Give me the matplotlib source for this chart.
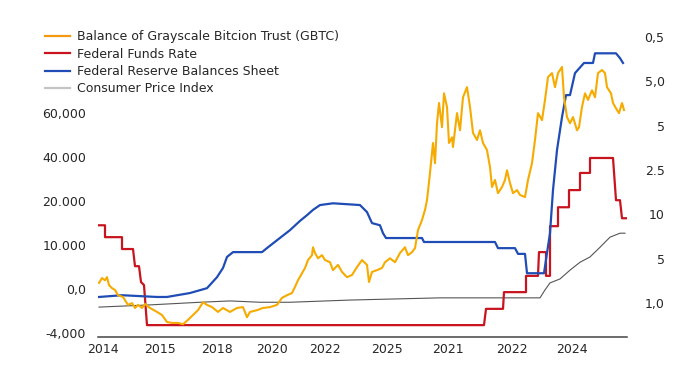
import matplotlib
matplotlib.use("Agg")
import matplotlib.pyplot as plt
from matplotlib.lines import Line2D

# ---------------- data ----------------
# x: time index along the axis; y: position on the left-axis scale (ticks at 0..50)
x_tick_pos = [5, 62, 119, 174, 227, 289, 350, 414, 474]
x_tick_labels = ["2014", "2015", "2018", "2020", "2022", "2025", "2021", "2022", "2024"]

left_tick_pos = [0, 10, 20, 30, 40, 50]
left_tick_labels = ["-4,000", "0,0", "10.000", "20.000", "40.000", "60,000"]

right_tick_pos = [6.8, 16.9, 27.0, 37.0, 47.1, 57.2, 67.3]
right_tick_labels = ["1,0", "5", "10", "2.5", "5", "5,0", "0,5"]

gbtc_x = [1, 4, 7, 9, 11, 14, 17, 20, 25, 30,
          34, 37, 40, 44, 47, 52, 59, 64, 69, 74,
          80, 85, 90, 95, 100, 105, 109, 114, 120, 125,
          132, 139, 145, 149, 152, 159, 165, 172, 179, 184,
          189, 194, 197, 200, 204, 207, 210, 214, 215, 217,
          220, 224, 227, 232, 235, 240, 244, 249, 254, 259,
          264, 269, 271, 274, 279, 284, 287, 292, 297, 302,
          307, 310, 314, 317, 320, 324, 327, 329, 332, 335,
          337, 339, 341, 344, 346, 349, 351, 354, 355, 359,
          362, 365, 369, 372, 375, 379, 382, 385, 389, 392,
          394, 397, 400, 404, 407, 409, 412, 415, 419, 422,
          427, 430, 434, 437, 440, 444, 447, 450, 454, 457,
          460, 464, 466, 469, 472, 475, 479, 481, 484, 487,
          490, 494, 497, 500, 504, 507, 509, 513, 515, 519,
          521, 524, 526]
gbtc_y = [11.4, 12.5, 12.0, 12.7, 10.9, 10.2, 9.8, 8.6, 8.2, 6.4,
          6.8, 5.7, 6.4, 5.7, 6.6, 5.7, 4.8, 4.1, 2.5, 2.3,
          2.3, 2.0, 3.0, 4.1, 5.2, 7.0, 6.4, 5.9, 4.8, 5.7,
          4.8, 5.7, 5.9, 3.6, 4.8, 5.2, 5.7, 5.9, 6.4, 8.0,
          8.6, 9.1, 10.5, 12.0, 13.6, 14.8, 16.6, 17.7, 19.5, 18.2,
          17.0, 17.7, 16.6, 16.1, 14.3, 15.5, 13.9, 12.7, 13.2, 15.0,
          16.6, 15.5, 11.6, 13.9, 14.3, 14.8, 16.1, 17.0, 16.1, 18.2,
          19.5, 17.7, 18.4, 19.3, 23.4, 25.7, 28.0, 30.2, 36.4, 43.2,
          38.6, 47.7, 52.3, 46.8, 54.5, 51.4, 43.2, 44.5, 42.3, 50.0,
          46.1, 53.6, 55.9, 51.4, 45.5, 43.9, 46.1, 43.2, 41.6, 37.7,
          33.2, 34.8, 31.8, 33.2, 34.8, 37.0, 34.1, 31.8, 32.5, 31.4,
          30.9, 34.8, 38.6, 43.9, 50.0, 48.4, 53.0, 58.2, 59.1, 55.9,
          59.1, 60.5, 53.6, 49.1, 47.7, 49.1, 46.1, 46.8, 51.4, 54.5,
          53.0, 55.2, 53.6, 59.1, 59.8, 59.1, 55.9, 54.5, 52.3, 50.7,
          50.0, 52.3, 50.7]

fed_rate_x = [1, 7, 7, 24, 24, 35, 37, 41, 43, 46, 49, 386, 388, 405, 406, 428, 428,
              440, 441, 448, 448, 452, 452, 460, 460, 471, 471, 482, 482, 492, 492,
              515, 518, 522, 524, 528]
fed_rate_y = [24.5, 24.5, 21.8, 21.8, 19.1, 19.1, 15.2, 15.2, 11.6, 10.9, 1.8, 1.8, 5.5, 5.5,
              9.3, 9.3, 13.0, 13.0, 18.4, 18.4, 13.0, 13.0, 24.3, 24.3, 28.6, 28.6, 32.5,
              32.5, 36.4, 36.4, 39.8, 39.8, 30.2, 30.2, 26.1, 26.1]

fed_bs_x = [1, 24, 59, 69, 92, 109, 119, 125, 129, 135, 164, 170, 179, 192, 202, 209, 215,
            222, 235, 262, 269, 274, 282, 285, 288, 324, 326, 397, 400, 417, 420, 427, 429,
            446, 449, 452, 455, 459, 464, 468, 472, 477, 486, 495, 497, 518, 522, 525]
fed_bs_y = [8.2, 8.6, 8.2, 8.2, 9.1, 10.2, 12.7, 14.8, 17.3, 18.4, 18.4, 19.5, 21.1, 23.4,
            25.5, 26.8, 28.0, 29.1, 29.5, 29.1, 27.5, 25.0, 24.5, 22.7, 21.6, 21.6, 20.7,
            20.7, 19.3, 19.3, 18.0, 18.0, 13.6, 13.6, 18.2, 22.7, 32.5, 41.6, 49.1, 54.1,
            54.1, 59.1, 61.4, 61.4, 63.6, 63.6, 62.5, 61.4]

cpi_x = [1, 52, 102, 132, 162, 192, 252, 342, 442, 447, 452, 462, 472, 482, 492, 502,
         512, 522, 527]
cpi_y = [5.9, 6.4, 7.0, 7.3, 7.0, 7.0, 7.5, 8.0, 8.0, 9.8, 11.4, 12.3, 14.3, 16.1, 17.3,
         19.5, 21.8, 22.7, 22.7]

labels = ["Balance of Grayscale Bitcion Trust (GBTC)", "Federal Funds Rate",
          "Federal Reserve Balances Sheet", "Consumer Price Index"]

# ---------------- style ----------------
YELLOW = "#f6ab00"
ORANGE = "#f39a12"
RED = "#c8141f"
BLUE = "#1f4db5"
GRAY = "#555555"
LGRAY = "#c4c4c4"
TXT = "#262626"

plt.rcParams["font.family"] = ["DejaVu Sans"]

fig = plt.figure(figsize=(6.88, 3.85), dpi=100)
fig.patch.set_facecolor("white")
ax = fig.add_axes([98 / 688, 48 / 385, 529 / 688, 307 / 385])

ax.plot(cpi_x, cpi_y, color=GRAY, lw=0.8, zorder=2)
ax.plot(fed_rate_x, fed_rate_y, color=RED, lw=1.6, zorder=3)
ax.plot(fed_bs_x, fed_bs_y, color=BLUE, lw=1.6, zorder=3)
ax.plot(gbtc_x, gbtc_y, color=YELLOW, lw=1.5, zorder=4)

ax.set_xlim(0, 529)
ax.set_ylim(-0.9, 68.9)

for s in ["top", "left", "right"]:
    ax.spines[s].set_visible(False)
ax.spines["bottom"].set_color("#444444")
ax.spines["bottom"].set_linewidth(1.1)

ax.set_xticks(x_tick_pos)
ax.set_xticklabels(x_tick_labels)
ax.set_yticks(left_tick_pos)
ax.set_yticklabels(left_tick_labels)
ax.tick_params(axis="both", length=0, labelsize=9, colors=TXT)
ax.tick_params(axis="y", pad=8.5)
ax.tick_params(axis="x", pad=4.5)

ax2 = ax.twinx()
ax2.set_ylim(ax.get_ylim())
for s in ["top", "left", "right", "bottom"]:
    ax2.spines[s].set_visible(False)
ax2.set_yticks(right_tick_pos)
ax2.set_yticklabels(right_tick_labels)
ax2.tick_params(axis="y", length=0, labelsize=9, colors=TXT, pad=27)
for t in ax2.get_yticklabels():
    t.set_horizontalalignment("right")

handles = [Line2D([], [], color=ORANGE, lw=1.6),
           Line2D([], [], color=RED, lw=1.6),
           Line2D([], [], color=BLUE, lw=1.6),
           Line2D([], [], color=LGRAY, lw=1.6)]
fig.legend(handles, labels, loc="upper left", bbox_to_anchor=(45 / 688, 1 - 30 / 385),
           frameon=False, fontsize=9, labelcolor=TXT, handlelength=2.0,
           handletextpad=0.55, labelspacing=0.36, borderpad=0, borderaxespad=0)

fig.savefig("out.png", dpi=100, facecolor="white")
